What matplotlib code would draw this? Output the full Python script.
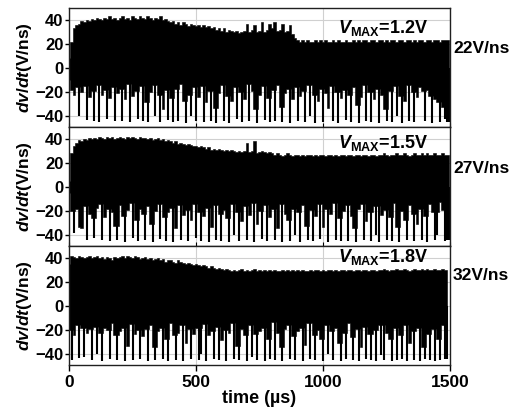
import matplotlib
matplotlib.use("Agg")
import matplotlib.pyplot as plt
import numpy as np

plt.rcParams['font.family'] = ['Liberation Sans', 'DejaVu Sans']
plt.rcParams['mathtext.fontset'] = 'custom'
plt.rcParams['mathtext.rm'] = 'Liberation Sans:bold'
plt.rcParams['mathtext.bf'] = 'Liberation Sans:bold'
plt.rcParams['mathtext.it'] = 'Liberation Sans:bold:italic'

# ---- data ----
labels_vmax = ["1.2V", "1.5V", "1.8V"]
labels_rate = ["22V/ns", "27V/ns", "32V/ns"]
signal_end = [1495, 1495, 1487]   # us

# sample times of the envelopes, one every 10 us
t_env = list(range(0, 1500, 10))

# upper envelope of dv/dt (V/ns)
up_v1 = [8, 22, 33, 36, 37, 39, 38, 40, 39, 41,
         40, 42, 41, 40, 42, 41, 43, 41, 42, 40,
         42, 43, 41, 42, 40, 43, 42, 41, 43, 42,
         41, 43, 42, 40, 42, 41, 43, 40, 41, 39,
         38, 39, 37, 38, 36, 38, 37, 35, 37, 36,
         35, 36, 34, 36, 34, 35, 33, 34, 32, 33,
         31, 33, 30, 32, 31, 30, 31, 29, 30, 31,
         37, 30, 32, 36, 30, 31, 38, 30, 32, 37,
         33, 38, 31, 32, 37, 30, 31, 36, 28, 25,
         23, 22, 23, 22, 23, 22, 22, 23, 22, 23,
         22, 23, 22, 22, 23, 22, 23, 22, 22, 23,
         22, 22, 23, 22, 23, 22, 23, 23, 22, 23,
         23, 22, 23, 23, 22, 23, 22, 23, 23, 22,
         23, 23, 22, 23, 23, 22, 23, 22, 23, 23,
         22, 23, 23, 22, 23, 23, 22, 23, 23, 23]
up_v2 = [5, 28, 34, 37, 39, 38, 40, 39, 41, 40,
         41, 40, 42, 41, 40, 42, 41, 42, 40, 41,
         42, 41, 40, 42, 41, 42, 41, 40, 42, 41,
         41, 40, 41, 39, 40, 41, 39, 40, 38, 39,
         38, 37, 38, 36, 37, 36, 35, 36, 35, 34,
         34, 33, 34, 33, 32, 33, 31, 32, 31, 32,
         31, 30, 31, 30, 31, 30, 29, 30, 29, 30,
         37, 29, 30, 38, 28, 29, 30, 29, 28, 29,
         28, 27, 28, 27, 26, 27, 28, 27, 26, 27,
         27, 26, 27, 26, 27, 27, 26, 27, 26, 27,
         27, 26, 27, 27, 26, 27, 26, 27, 27, 26,
         27, 27, 26, 27, 27, 26, 27, 27, 26, 27,
         27, 26, 27, 27, 28, 27, 26, 27, 27, 28,
         27, 27, 28, 27, 26, 27, 28, 27, 27, 28,
         27, 28, 27, 27, 28, 27, 27, 28, 27, 27]
up_v3 = [35, 42, 41, 40, 42, 41, 40, 41, 42, 40,
         41, 42, 40, 41, 39, 41, 40, 38, 41, 40,
         41, 42, 40, 42, 41, 40, 42, 41, 39, 40,
         41, 39, 40, 38, 39, 40, 38, 39, 37, 38,
         38, 37, 36, 38, 37, 36, 35, 36, 35, 34,
         35, 34, 33, 34, 33, 32, 33, 32, 31, 32,
         31, 30, 31, 30, 29, 30, 29, 30, 31, 29,
         30, 29, 30, 31, 29, 30, 29, 30, 29, 30,
         29, 30, 29, 29, 30, 29, 30, 29, 30, 29,
         30, 29, 30, 29, 29, 30, 29, 30, 30, 29,
         30, 29, 30, 30, 29, 30, 29, 30, 30, 29,
         30, 30, 29, 30, 30, 29, 30, 30, 29, 30,
         30, 29, 30, 30, 31, 30, 29, 30, 30, 31,
         30, 30, 31, 30, 29, 30, 31, 30, 30, 31,
         30, 31, 30, 30, 31, 30, 30, 31, 30, 30]

# lower envelope of dv/dt (V/ns); values below -36 are narrow spikes
low_v1 = [-10, -18, -22, -16, -40, -20, -15, -43, -24, -19,
          -44, -14, -45, -22, -18, -42, -25, -16, -44, -21,
          -17, -44, -26, -13, -45, -23, -19, -42, -15, -44,
          -28, -45, -20, -14, -40, -22, -45, -34, -18, -43,
          -25, -45, -17, -44, -13, -27, -46, -22, -40, -16,
          -44, -24, -15, -45, -28, -19, -44, -33, -46, -21,
          -14, -44, -23, -46, -27, -16, -42, -20, -45, -26,
          -13, -44, -19, -34, -46, -22, -15, -43, -25, -45,
          -18, -44, -14, -32, -45, -21, -17, -46, -26, -16,
          -44, -23, -19, -45, -14, -40, -22, -46, -27, -17,
          -45, -21, -33, -15, -44, -20, -46, -25, -18, -43,
          -22, -45, -16, -31, -46, -24, -14, -44, -20, -45,
          -26, -17, -46, -22, -34, -44, -19, -45, -15, -40,
          -23, -46, -27, -14, -44, -20, -45, -24, -16, -19,
          -44, -18, -23, -46, -26, -28, -45, -32, -42, -45]
low_v2 = [-5, -20, -38, -18, -33, -34, -16, -44, -22, -26,
          -42, -17, -14, -44, -25, -18, -45, -21, -32, -44,
          -15, -24, -46, -19, -13, -42, -27, -45, -18, -22,
          -44, -16, -31, -46, -20, -14, -43, -25, -45, -21,
          -17, -46, -34, -15, -44, -23, -19, -45, -27, -14,
          -42, -21, -45, -24, -17, -46, -33, -15, -44, -22,
          -45, -19, -26, -46, -14, -40, -21, -45, -28, -16,
          -44, -23, -13, -46, -31, -20, -43, -15, -45, -25,
          -18, -44, -34, -14, -46, -22, -27, -45, -18, -40,
          -21, -46, -15, -32, -44, -19, -45, -24, -14, -43,
          -33, -18, -46, -22, -13, -44, -26, -45, -20, -15,
          -45, -24, -34, -46, -18, -14, -44, -28, -21, -45,
          -16, -40, -46, -23, -19, -44, -25, -45, -13, -33,
          -46, -20, -27, -44, -15, -22, -45, -31, -18, -44,
          -24, -46, -14, -21, -44, -40, -12, -19, -45, -44]
low_v3 = [-44, -45, -24, -16, -43, -18, -42, -22, -19, -45,
          -17, -40, -22, -46, -18, -20, -44, -14, -24, -45,
          -21, -18, -46, -33, -15, -45, -23, -20, -44, -25,
          -19, -46, -16, -34, -45, -21, -18, -44, -27, -46,
          -14, -24, -45, -22, -16, -46, -31, -19, -44, -23,
          -18, -45, -40, -15, -46, -24, -21, -44, -17, -45,
          -28, -20, -46, -22, -14, -44, -33, -45, -19, -24,
          -46, -16, -42, -23, -45, -21, -18, -46, -27, -44,
          -13, -45, -22, -34, -46, -19, -16, -44, -25, -45,
          -21, -18, -46, -32, -14, -44, -24, -45, -20, -27,
          -46, -16, -40, -21, -45, -18, -31, -46, -22, -44,
          -14, -26, -45, -19, -46, -34, -17, -44, -23, -45,
          -20, -46, -16, -41, -45, -22, -27, -46, -18, -45,
          -24, -44, -16, -46, -31, -21, -45, -18, -46, -34,
          -44, -23, -45, -19, -46, -27, -45, -16, -44, -46]

panels = [(up_v1, low_v1), (up_v2, low_v2), (up_v3, low_v3)]
vmax_y = [33, 37, 41]
rate_y = [0.66, 0.65, 0.75]

fig = plt.figure(figsize=(5.17, 4.18), dpi=100)
left, width = 69 / 517, 381 / 517
tops = [8, 127, 246]
h = 119 / 418
spike_level = -36

for i, (uv, lv) in enumerate(panels):
    ax = fig.add_axes([left, 1 - (tops[i] + 119) / 418, width, h])
    end = signal_end[i]
    t = np.array([x for x in t_env if x <= end] + [end])
    n = len(t) - 1
    u = np.array(uv[:n] + [uv[n - 1]])
    lo = np.array(lv[:n] + [lv[n - 1]])
    # body of the lower edge: spike samples take the preceding body level
    body = lo.copy()
    for k in range(len(body)):
        if body[k] < spike_level:
            body[k] = body[k - 1] if k > 0 else -20
    deep = lo < spike_level
    ax.fill_between(t, body, u, step='mid', color='black', lw=0.4, edgecolor='black')
    ax.vlines(t[deep], lo[deep], 0, color='black', lw=1.5)
    ax.set_xlim(0, 1500)
    ax.set_ylim(-49, 50)
    ax.set_yticks([-40, -20, 0, 20, 40])
    ax.set_xticks([0, 500, 1000, 1500])
    ax.grid(True, color='#d0d0d0', lw=0.8)
    ax.set_axisbelow(True)
    for s in ax.spines.values():
        s.set_color('#202020')
        s.set_linewidth(1.0)
    ax.tick_params(axis='y', labelsize=12, length=3, width=1, pad=1)
    for lab in ax.get_yticklabels():
        lab.set_fontweight('bold')
    if i < 2:
        ax.tick_params(axis='x', labelbottom=False, length=3, direction='in')
    else:
        ax.tick_params(axis='x', labelsize=12.5, length=4, width=1, pad=3)
        for lab in ax.get_xticklabels():
            lab.set_fontweight('bold')
        ax.set_xlabel('time (µs)', fontsize=13, fontweight='bold', labelpad=0)
    ax.set_ylabel(r'$\mathit{dv/dt}$(V/ns)', fontsize=12.5, fontweight='bold', labelpad=1)
    ax.text(1236, vmax_y[i], r'$\mathit{V}_{\mathrm{MAX}}$=' + labels_vmax[i], fontsize=13,
            fontweight='bold', ha='center', va='center')
    ax.text(1.008, rate_y[i], labels_rate[i], transform=ax.transAxes, fontsize=12.5,
            fontweight='bold', ha='left', va='center')

fig.savefig('out.png', dpi=100)
